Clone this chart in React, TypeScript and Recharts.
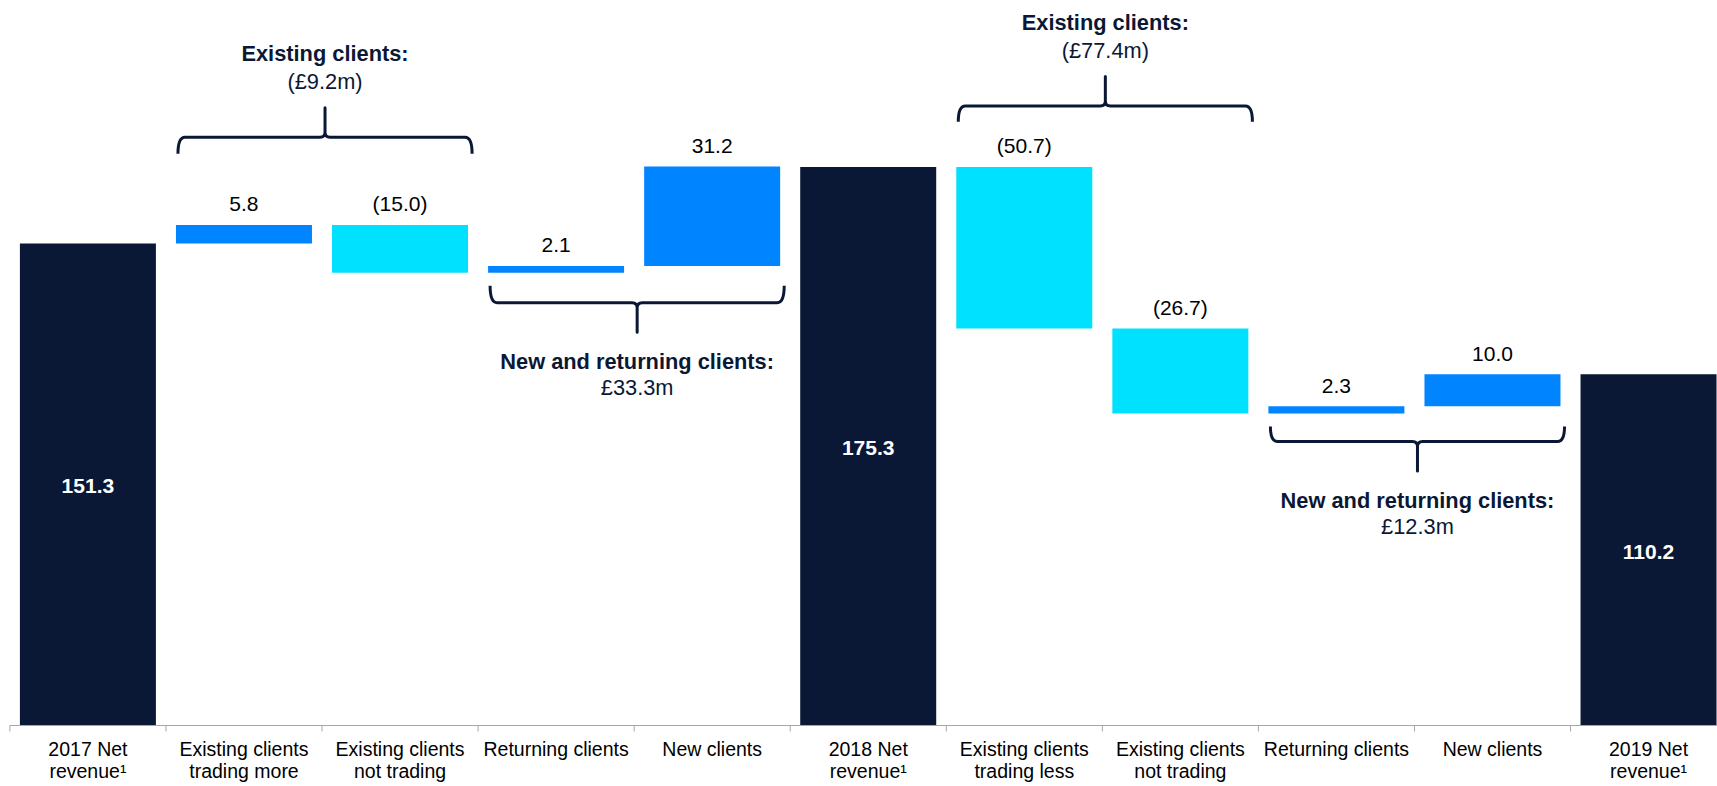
import React from 'react';
import { BarChart, Bar, XAxis, YAxis, Cell, LabelList, ReferenceArea } from 'recharts';

// ---- Data ----
const categoryIds = ['c0', 'c1', 'c2', 'c3', 'c4', 'c5', 'c6', 'c7', 'c8', 'c9', 'c10'];
const labelLine1 = [
  '2017 Net', 'Existing clients', 'Existing clients', 'Returning clients', 'New clients',
  '2018 Net', 'Existing clients', 'Existing clients', 'Returning clients', 'New clients', '2019 Net',
];
const labelLine2 = [
  'revenue¹', 'trading more', 'not trading', '', '',
  'revenue¹', 'trading less', 'not trading', '', '', 'revenue¹',
];
const changeValues = [151.3, 5.8, -15.0, 2.1, 31.2, 175.3, -50.7, -26.7, 2.3, 10.0, 110.2];
const isTotal = [true, false, false, false, false, true, false, false, false, false, true];

const bracketFrom = [1, 3, 6, 8];
const bracketTo = [2, 4, 7, 9];
const bracketLineLevel = [184.6, 132.7, 194.4, 89.1];
const bracketEndLevel = [179.4, 138.0, 189.5, 93.8];
const bracketTitles = ['Existing clients:', 'New and returning clients:', 'Existing clients:', 'New and returning clients:'];
const bracketAmounts = ['(£9.2m)', '£33.3m', '(£77.4m)', '£12.3m'];

// ---- Styles ----
const NAVY = '#0B1835';
const BLUE = '#0084FF';
const CYAN = '#00E0FF';
const AXIS = '#A6A6A6';
const FONT = '"Liberation Sans", Arial, Helvetica, sans-serif';

// waterfall ranges
let running = 0;
const data = categoryIds.map((id, i) => {
  const v = changeValues[i];
  let low: number;
  let high: number;
  if (isTotal[i]) {
    low = 0;
    high = v;
    running = v;
  } else {
    const start = running;
    const end = running + v;
    low = Math.min(start, end);
    high = Math.max(start, end);
    running = end;
  }
  return { id, range: [low, high] };
});

const barColor = (i: number) => (isTotal[i] ? NAVY : changeValues[i] < 0 ? CYAN : BLUE);

const fmt = (v: number) => (v < 0 ? `(${Math.abs(v).toFixed(1)})` : v.toFixed(1));

const renderBarLabel = (props: any) => {
  const { x, y, width, height, index } = props;
  const cx = Number(x) + Number(width) / 2;
  const v = changeValues[index];
  if (isTotal[index]) {
    return (
      <text x={cx} y={Number(y) + Number(height) / 2 + 1.5} dy="0.35em" textAnchor="middle"
        fill="#FFFFFF" fontWeight="bold" fontSize={21} fontFamily={FONT}>
        {v.toFixed(1)}
      </text>
    );
  }
  return (
    <text x={cx} y={Number(y) - 13.6} textAnchor="middle" fill="#000000" fontSize={21} fontFamily={FONT}>
      {fmt(v)}
    </text>
  );
};

const CategoryTick = (props: any) => {
  const { x, y, payload } = props;
  const i = categoryIds.indexOf(payload.value);
  const half = typeof payload.offset === 'number' ? payload.offset : 0;
  return (
    <g>
      <line x1={x - half} x2={x - half} y1={y} y2={y + 6} stroke={AXIS} strokeWidth={1} />
      <text textAnchor="middle" fontSize={19.5} fill="#000000" fontFamily={FONT}>
        <tspan x={x} y={y + 30.5}>{labelLine1[i]}</tspan>
        {labelLine2[i] ? <tspan x={x} y={y + 52.8}>{labelLine2[i]}</tspan> : null}
      </text>
    </g>
  );
};

const makeBracket = (i: number) => (p: any) => {
  const x = Number(p.x);
  const y = Number(p.y);
  const width = Number(p.width);
  const height = Number(p.height);
  if (!isFinite(x) || !isFinite(y)) return null;
  const above = bracketEndLevel[i] < bracketLineLevel[i];
  const x0 = x + 12;
  const x1 = x + width - 6;
  const xm = (x0 + x1) / 2;
  const yLine = above ? y : y + height;
  const yEnd = above ? y + height : y;
  const dir = above ? -1 : 1;
  const yTip = yLine + dir * 29.5;
  const r = 7;
  const s = 5;
  const d = [
    `M${x0},${yEnd}`,
    `Q${x0},${yLine} ${x0 + r},${yLine}`,
    `L${xm - s},${yLine}`,
    `Q${xm},${yLine} ${xm},${yLine + dir * s}`,
    `L${xm},${yTip}`,
    `L${xm},${yLine + dir * s}`,
    `Q${xm},${yLine} ${xm + s},${yLine}`,
    `L${x1 - r},${yLine}`,
    `Q${x1},${yLine} ${x1},${yEnd}`,
  ].join(' ');
  const titleY = above ? yLine - 84 : yLine + 58.5;
  const amountY = above ? yLine - 56 : yLine + 85;
  return (
    <g>
      <path d={d} fill="none" stroke={NAVY} strokeWidth={3} strokeLinejoin="round" />
      <text x={xm} y={titleY} dy="0.35em" textAnchor="middle" fontWeight="bold" fontSize={21.8}
        fill={NAVY} fontFamily={FONT}>
        {bracketTitles[i]}
      </text>
      <text x={xm} y={amountY} dy="0.35em" textAnchor="middle" fontSize={21.8} fill={NAVY} fontFamily={FONT}>
        {bracketAmounts[i]}
      </text>
    </g>
  );
};

export default function App() {
  return (
    <div style={{ position: 'absolute', left: 0, top: 0, width: 1717, height: 786, overflow: 'hidden', background: '#FFFFFF' }}>
      <BarChart
        width={1740}
        height={786}
        data={data}
        margin={{ top: 24.5, right: 13.4, bottom: 10.5, left: 9.9 }}
        barCategoryGap={10}
      >
        <XAxis
          dataKey="id"
          interval={0}
          tick={<CategoryTick />}
          tickLine={false}
          tickSize={0}
          tickMargin={0}
          axisLine={{ stroke: AXIS, strokeWidth: 1 }}
          height={50}
        />
        <YAxis hide domain={[0, 220]} />
        <Bar dataKey="range" isAnimationActive={false}>
          {data.map((d, i) => (
            <Cell key={d.id} fill={barColor(i)} />
          ))}
          <LabelList dataKey="range" content={renderBarLabel} />
        </Bar>
        {bracketFrom.map((from, i) => (
          <ReferenceArea
            key={`br${i}`}
            x1={categoryIds[from]}
            x2={categoryIds[bracketTo[i]]}
            y1={bracketLineLevel[i]}
            y2={bracketEndLevel[i]}
            ifOverflow="visible"
            shape={makeBracket(i)}
          />
        ))}
      </BarChart>
    </div>
  );
}
